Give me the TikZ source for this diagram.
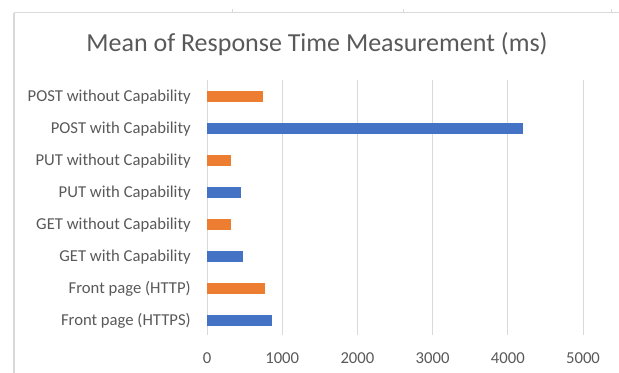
\documentclass[tikz,border=0pt]{standalone}
\usepackage{fontspec}
\setmainfont{Carlito}
\usepackage{tikz}
\usetikzlibrary{positioning}

\definecolor{barblue}{HTML}{4472C4}
\definecolor{barorange}{HTML}{ED7D31}
\definecolor{txtgray}{HTML}{595959}
\definecolor{gridgray}{HTML}{D9D9D9}

\begin{document}
\begin{tikzpicture}[
    x=0.75pt, y=-0.75pt,
    gridline/.style={draw=gridgray, line width=0.75pt},
    catlabel/.style={anchor=base east, inner sep=0pt, text=txtgray, font=\fontsize{12.5}{14}\selectfont},
    ticklabel/.style={anchor=base, inner sep=0pt, text=txtgray, font=\fontsize{12.5}{14}\selectfont},
    bar/.style={inner sep=0pt, minimum height=8.25pt, anchor=west}
]
    \useasboundingbox (0,0) rectangle (619,373);

    % Chart frame
    \draw[draw=gridgray, line width=1.5pt] (14,13) -- (14,373);
    \draw[draw=gridgray, line width=0.75pt] (14,13) -- (619,13);
    \foreach \cx in {232, 403, 611}
        \draw[draw=gridgray, line width=0.5pt] (\cx,9) -- (\cx,13);

    % Title
    \node[anchor=base, inner sep=0pt, text=txtgray, font=\fontsize{19.5}{22}\selectfont]
        (title) at (317,52) {Mean of Response Time Measurement (ms)};

    % Vertical grid lines and tick labels
    \foreach \i in {0,...,5} {
        \draw[gridline] ({207+75.2*\i},80) -- ({207+75.2*\i},335);
        \node[ticklabel] (tick\i) at ({207+75.2*\i},364) {\pgfmathparse{int(1000*\i)}\pgfmathresult};
    }

    % Bars: value, colour, label (top to bottom)
    \foreach \val/\col/\name [count=\k from 0] in {
        740/barorange/POST without Capability,
        4190/barblue/POST with Capability,
        315/barorange/PUT without Capability,
        452/barblue/PUT with Capability,
        315/barorange/GET without Capability,
        469/barblue/GET with Capability,
        771/barorange/Front page (HTTP),
        860/barblue/Front page (HTTPS)} {
        \node[bar, fill=\col, minimum width={0.07525*\val*0.75pt}] (bar\k) at (207,{97+31.9*\k}) {};
        \node[catlabel] (lab\k) at (191,{97+31.9*\k+5}) {\name};
    }

\end{tikzpicture}
\end{document}
